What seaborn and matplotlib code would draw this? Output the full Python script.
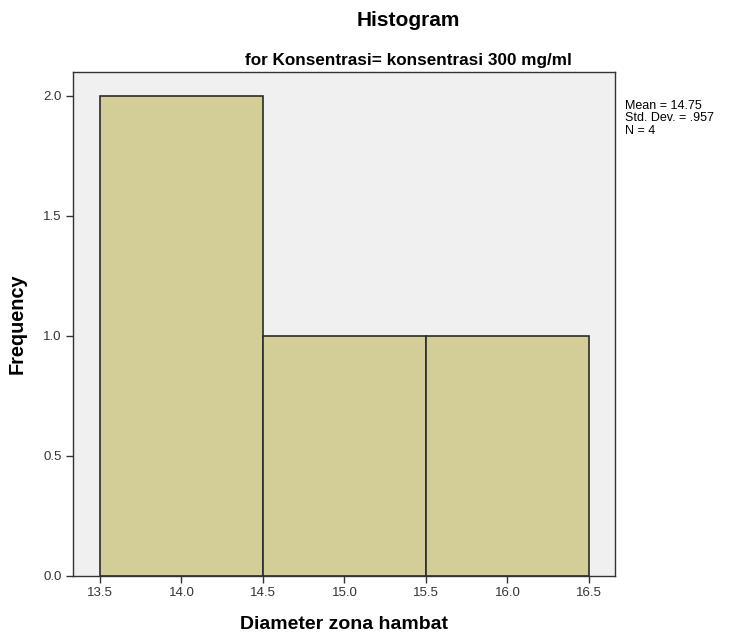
import seaborn as sns
import matplotlib.pyplot as plt
import numpy as np
import pandas as pd

# zone diameters (gives mean 14.75, sd .957, n 4)
diameters = [14.0, 14.0, 15.0, 16.0]
bin_edges = [13.5, 14.5, 15.5, 16.5]
x_ticks = [13.5, 14.0, 14.5, 15.0, 15.5, 16.0, 16.5]
y_ticks = [0.0, 0.5, 1.0, 1.5, 2.0]

sns.set_style("white")
plt.rcParams['font.family'] = ['Liberation Sans', 'DejaVu Sans']
plt.rcParams['text.color'] = 'black'
plt.rcParams['axes.labelcolor'] = 'black'

df = pd.DataFrame({'Diameter zona hambat': diameters})

fig = plt.figure(figsize=(7.31, 6.39), dpi=100)
# frame spans x 73..615, y 72..576 in the reference
ax = fig.add_axes([73 / 731, 1 - 576 / 639, 542 / 731, 504 / 639])
ax.set_facecolor('#f0f0f0')

sns.histplot(data=df, x='Diameter zona hambat', bins=bin_edges, stat='count',
             color='#d3ce97', alpha=1, edgecolor='#2b2b2b', linewidth=1.2, ax=ax)

ax.set_xlim(13.335, 16.66)
ax.set_ylim(0, 2.1)
ax.set_xticks(x_ticks)
ax.set_xticklabels([f"{t:.1f}" for t in x_ticks])
ax.set_yticks(y_ticks)
ax.set_yticklabels([f"{t:.1f}" for t in y_ticks])
ax.tick_params(direction='out', length=5, width=1, color='#333333',
               labelsize=9.5, labelcolor='#333333', bottom=True, left=True, pad=3)
for s in ax.spines.values():
    s.set_color('#333333')
    s.set_linewidth(1)

ax.set_xlabel('Diameter zona hambat', fontsize=14, fontweight='bold', labelpad=12)
ax.set_ylabel('Frequency', fontsize=14.3, fontweight='bold', labelpad=12)

fig.text(408 / 731, 1 - 21 / 639, 'Histogram', ha='center', va='center',
         fontsize=15, fontweight='bold')
fig.text(408 / 731, 1 - 60 / 639, 'for Konsentrasi= konsentrasi 300 mg/ml',
         ha='center', va='center', fontsize=12.3, fontweight='bold')

mean = np.mean(diameters)
sd = np.std(diameters, ddof=1)
stats = f"Mean = {mean:.2f}\nStd. Dev. = {sd:.3f}".replace("0.", ".") + f"\nN = {len(diameters)}"
fig.text(625 / 731, 1 - 100 / 639, stats, ha='left', va='top', fontsize=9,
         linespacing=1.05)

fig.savefig('out.png', dpi=100)
